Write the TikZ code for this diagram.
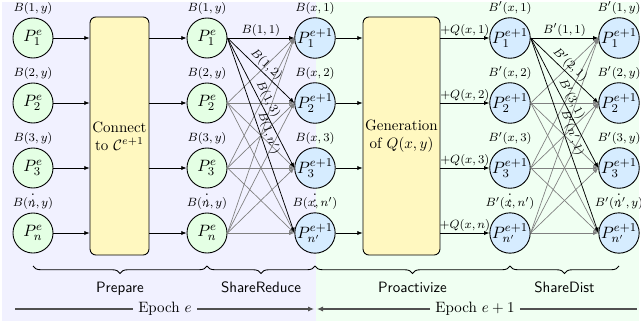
\documentclass[tikz,border=0pt]{standalone}
\usetikzlibrary{arrows.meta,decorations.pathreplacing}
\definecolor{bgL}{RGB}{241,241,255}
\definecolor{bgR}{RGB}{240,255,242}
\definecolor{pgreen}{RGB}{228,255,228}
\definecolor{pblue}{RGB}{214,236,255}
\definecolor{boxy}{RGB}{255,248,192}
\definecolor{epochc}{RGB}{80,80,80}
\begin{document}
\begin{tikzpicture}[x=0.66667pt,y=-0.66667pt,
  party/.style={circle,draw,line width=0.6pt,minimum size=26.7pt,inner sep=0pt,font=\fontsize{11}{13}\selectfont},
  pg/.style={party,fill=pgreen},
  pb/.style={party,fill=pblue},
  procbox/.style={draw,line width=0.6pt,rounded corners=4pt,fill=boxy,align=center,inner sep=0pt},
  arr/.style={-{Latex[length=3.5pt,width=2.8pt]},line width=0.5pt},
  garr/.style={arr,draw=black!50,line width=0.45pt},
  elab/.style={font=\footnotesize,inner sep=1pt},
  nlab/.style={font=\fontsize{8.5}{10}\selectfont,label distance=-1.5pt},
  brc/.style={decorate,decoration={brace,mirror,amplitude=5pt},line width=0.6pt},
  blab/.style={font=\sffamily},
  epl/.style={line width=1pt,draw=epochc},
  epa/.style={epl,-{Latex[length=4pt,width=3.5pt]}}
]
\useasboundingbox (0,0) rectangle (641,323);
\fill[bgL] (2,2) rectangle (316,321);
\fill[bgR] (316,2) rectangle (639,321);

% column 1
\node[pg,label={[nlab]above:$B(1,y)$}] (a1) at (33,38) {$P^e_1$};
\node[pg,label={[nlab]above:$B(2,y)$}] (a2) at (33,103) {$P^e_2$};
\node[pg,label={[nlab]above:$B(3,y)$}] (a3) at (33,168) {$P^e_3$};
\node[pg,label={[nlab]above:$B(n,y)$}] (a4) at (33,233) {$P^e_n$};
\node (va) at (33,196) {$\vdots$};

% box 1
\node[procbox,minimum width=39.3pt,minimum height=158.7pt] (box1) at (119.5,136) {Connect\\to $\mathcal{C}^{e+1}$};

% column 3
\node[pg,label={[nlab]above:$B(1,y)$}] (c1) at (207,38) {$P^e_1$};
\node[pg,label={[nlab]above:$B(2,y)$}] (c2) at (207,103) {$P^e_2$};
\node[pg,label={[nlab]above:$B(3,y)$}] (c3) at (207,168) {$P^e_3$};
\node[pg,label={[nlab]above:$B(n,y)$}] (c4) at (207,233) {$P^e_n$};
\node (vc) at (207,196) {$\vdots$};

% column 4
\node[pb,label={[nlab]above:$B(x,1)$}] (d1) at (315,38) {$P^{e+1}_1$};
\node[pb,label={[nlab]above:$B(x,2)$}] (d2) at (315,103) {$P^{e+1}_2$};
\node[pb,label={[nlab]above:$B(x,3)$}] (d3) at (315,168) {$P^{e+1}_3$};
\node[pb,label={[nlab]above:$B(x,n')$}] (d4) at (315,233) {$P^{e+1}_{n'}$};
\node (vd) at (315,196) {$\vdots$};

% box 2
\node[procbox,minimum width=51.3pt,minimum height=158.7pt] (box2) at (401.5,136) {Generation\\of $Q(x,y)$};

% column 5
\node[pb,label={[nlab]above:$B'(x,1)$}] (f1) at (510,38) {$P^{e+1}_1$};
\node[pb,label={[nlab]above:$B'(x,2)$}] (f2) at (510,103) {$P^{e+1}_2$};
\node[pb,label={[nlab]above:$B'(x,3)$}] (f3) at (510,168) {$P^{e+1}_3$};
\node[pb,label={[nlab]above:$B'(x,n')$}] (f4) at (510,233) {$P^{e+1}_{n'}$};
\node (vf) at (510,196) {$\vdots$};

% column 6
\node[pb,label={[nlab]above:$B'(1,y)$}] (g1) at (619,38) {$P^{e+1}_1$};
\node[pb,label={[nlab]above:$B'(2,y)$}] (g2) at (619,103) {$P^{e+1}_2$};
\node[pb,label={[nlab]above:$B'(3,y)$}] (g3) at (619,168) {$P^{e+1}_3$};
\node[pb,label={[nlab]above:$B'(n',y)$}] (g4) at (619,233) {$P^{e+1}_{n'}$};
\node (vg) at (619,196) {$\vdots$};

% straight arrows
\foreach \i in {1,...,4} {
  \draw[arr] (a\i.east) -- (a\i.east -| box1.west);
  \draw[arr] (c\i.west -| box1.east) -- (c\i.west);
  \draw[arr] (d\i.east) -- (d\i.east -| box2.west);
}
\draw[arr] (f1.west -| box2.east) -- node[elab,above]{$+Q(x,1)$} (f1.west);
\draw[arr] (f2.west -| box2.east) -- node[elab,above]{$+Q(x,2)$} (f2.west);
\draw[arr] (f3.west -| box2.east) -- node[elab,above]{$+Q(x,3)$} (f3.west);
\draw[arr] (f4.west -| box2.east) -- node[elab,above]{$+Q(x,n)$} (f4.west);

% gray bipartite edges
\foreach \i in {2,3,4} \foreach \j in {1,...,4} {
  \draw[garr] (c\i.east) -- (d\j.west);
  \draw[garr] (f\i.east) -- (g\j.west);
}
% black edges
\draw[arr] (c1.east) -- node[elab,above]{$B(1,1)$} (d1.west);
\draw[arr] (c1.east) -- node[elab,above,sloped]{$B(1,2)$} (d2.west);
\draw[arr] (c1.east) -- node[elab,above,sloped]{$B(1,3)$} (d3.west);
\draw[arr] (c1.east) -- node[elab,above,sloped]{$B(1,n')$} (d4.west);
\draw[arr] (f1.east) -- node[elab,above]{$B'(1,1)$} (g1.west);
\draw[arr] (f1.east) -- node[elab,above,sloped]{$B'(2,1)$} (g2.west);
\draw[arr] (f1.east) -- node[elab,above,sloped]{$B'(3,1)$} (g3.west);
\draw[arr] (f1.east) -- node[elab,above,sloped]{$B'(n',1)$} (g4.west);

% braces
\coordinate (b0) at (33,266);
\coordinate (b1) at (207,266);
\coordinate (b2) at (315,266);
\coordinate (b3) at (510,266);
\coordinate (b4) at (619,266);
\draw[brc] (b0) -- node[blab,below=7pt]{Prepare} (b1);
\draw[brc] (b1) -- node[blab,below=7pt]{ShareReduce} (b2);
\draw[brc] (b2) -- node[blab,below=7pt]{Proactivize} (b3);
\draw[brc] (b3) -- node[blab,below=7pt]{ShareDist} (b4);

% epochs
\node (ep1) at (165,309) {Epoch $e$};
\node (ep2) at (475,309) {Epoch $e+1$};
\coordinate (e0) at (15,309);
\coordinate (em1) at (314,309);
\coordinate (em2) at (317,309);
\coordinate (e9) at (637,309);
\draw[epl] (e0) -- (ep1.west);
\draw[epa] (ep1.east) -- (em1);
\draw[epa] (ep2.west) -- (em2);
\draw[epl] (ep2.east) -- (e9);
\end{tikzpicture}
\end{document}
